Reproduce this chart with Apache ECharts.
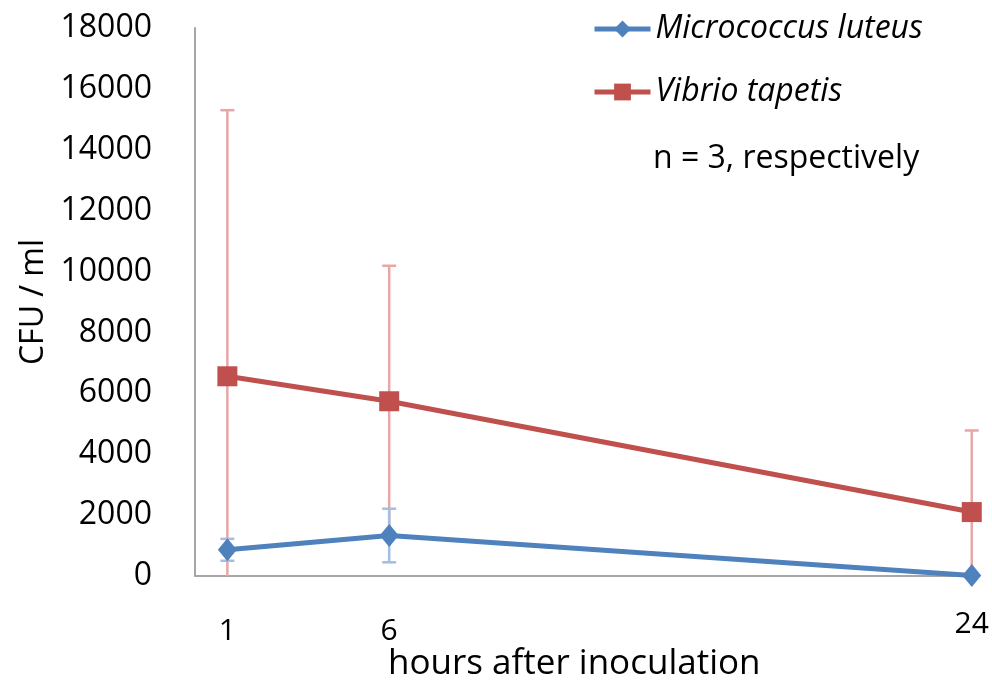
<!DOCTYPE html>
<html>
<head>
<meta charset="utf-8">
<script src="https://cdn.jsdelivr.net/npm/echarts@6/dist/echarts.min.js"></script>
<style>html,body{margin:0;padding:0;background:#fff}#chart{width:992px;height:693px}</style>
</head>
<body>
<div id="chart"></div>
<script>
const hours = [1, 6, 24];
const xTickLabels = [1, 6, 24];
const micrococcus = [860, 1330, 20];
const micrococcusErr = [360, 880, 0];
const vibrio = [6560, 5740, 2100];
const vibrioErr = [8740, 4450, 2680];
const seriesNames = ['Micrococcus luteus', 'Vibrio tapetis'];
const note = 'n = 3, respectively';

const FONT = 'Open Sans';
const blue = '#4F81BD', red = '#C0504D';
const blueErr = '#A3BEE0', redErr = '#E8A6A5';

function errData(vals, errs) {
  return hours.map((h, i) => [h, vals[i], errs[i]]);
}
function errRender(capHalf, color) {
  return function (params, api) {
    const x = api.value(0), y = api.value(1), e = api.value(2);
    if (!e) return null;
    const lo = Math.max(0, y - e), hi = y + e;
    const pHi = api.coord([x, hi]);
    const pLo = api.coord([x, lo]);
    const style = { stroke: color, lineWidth: 2.5, fill: null };
    const children = [
      { type: 'line', shape: { x1: pHi[0], y1: pHi[1], x2: pLo[0], y2: pLo[1] }, style },
      { type: 'line', shape: { x1: pHi[0] - capHalf, y1: pHi[1], x2: pHi[0] + capHalf, y2: pHi[1] }, style }
    ];
    if (y - e > 0) {
      children.push({ type: 'line', shape: { x1: pLo[0] - capHalf, y1: pLo[1], x2: pLo[0] + capHalf, y2: pLo[1] }, style });
    }
    return { type: 'group', children };
  };
}

const chart = echarts.init(document.getElementById('chart'));
chart.setOption({
  animation: false,
  textStyle: { fontFamily: FONT },
  grid: { left: 195, right: 17, top: 28, bottom: 117, containLabel: false },
  legend: {
    orient: 'vertical', left: 592, top: 13, itemGap: 31, padding: 0,
    itemWidth: 56, itemHeight: 21,
    lineStyle: { width: 5 },
    data: seriesNames,
    textStyle: { fontFamily: FONT, fontSize: 32, fontStyle: 'italic', color: '#000' }
  },
  xAxis: {
    type: 'value', min: 0, max: 24.1,
    axisLine: { lineStyle: { color: '#A6A6A6', width: 2 } },
    axisTick: { show: false },
    splitLine: { show: false },
    axisLabel: {
      customValues: xTickLabels,
      margin: 33,
      formatter: v => (v === 24 ? '{b|' + v + '}' : '{a|' + v + '}'),
      rich: {
        a: { fontSize: 30, fontFamily: FONT, color: '#000', padding: [7, 0, 0, 0] },
        b: { fontSize: 30, fontFamily: FONT, color: '#000' }
      }
    }
  },
  yAxis: {
    type: 'value', min: 0, max: 18000, interval: 2000,
    name: 'CFU / ml', nameLocation: 'middle', nameGap: 145,
    nameTextStyle: { fontSize: 32, fontFamily: FONT, color: '#000' },
    axisLine: { show: true, lineStyle: { color: '#A6A6A6', width: 2 } },
    axisTick: { show: false },
    splitLine: { show: false },
    axisLabel: { fontSize: 32, fontFamily: FONT, color: '#000', margin: 43, formatter: v => String(v) }
  },
  graphic: [
    { type: 'text', left: 653, top: 143, style: { text: note, fontSize: 32, fontFamily: FONT, fill: '#000' } },
    { type: 'text', left: 388, top: 647, style: { text: 'hours after inoculation', fontSize: 35, fontFamily: FONT, fill: '#000' } }
  ],
  series: [
    { type: 'custom', name: 'vibErr', z: 1, data: errData(vibrio, vibrioErr), renderItem: errRender(7, redErr), silent: true },
    { type: 'custom', name: 'micErr', z: 2, data: errData(micrococcus, micrococcusErr), renderItem: errRender(7, blueErr), silent: true },
    {
      type: 'line', name: seriesNames[1], z: 3,
      data: hours.map((h, i) => [h, vibrio[i]]),
      symbol: 'rect', symbolSize: 20,
      lineStyle: { color: red, width: 5 },
      itemStyle: { color: red }
    },
    {
      type: 'line', name: seriesNames[0], z: 4,
      data: hours.map((h, i) => [h, micrococcus[i]]),
      symbol: 'diamond', symbolSize: [19, 23],
      lineStyle: { color: blue, width: 5 },
      itemStyle: { color: blue }
    }
  ]
});
</script>
</body>
</html>
